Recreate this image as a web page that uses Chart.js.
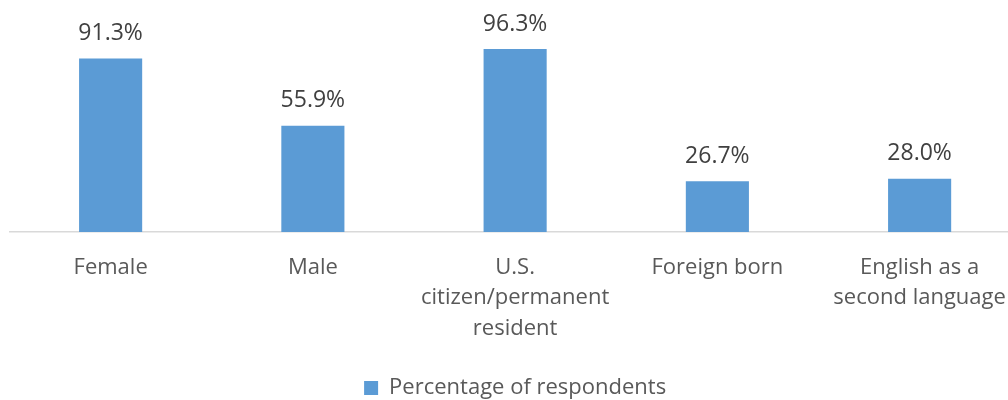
<!DOCTYPE html>
<html>
<head>
<meta charset="utf-8">
<script src="https://cdn.jsdelivr.net/npm/chart.js@4.4.1/dist/chart.umd.min.js"></script>
<style>
  html, body { margin: 0; padding: 0; background: #fff; overflow: hidden; }
  #wrap { width: 1030px; height: 400px; }
</style>
</head>
<body>
<div id="wrap"><canvas id="barchart" width="1030" height="400"></canvas></div>
<script>
const categories = [
    "Female",
    "Male",
    ["U.S.", "citizen/permanent", "resident"],
    "Foreign born",
    ["English as a", "second language"]
];
const percentages = [91.3, 55.9, 96.3, 26.7, 28.0];
const seriesName = "Percentage of respondents";

// draws the value labels above each bar
const valueLabels = {
    id: "valueLabels",
    afterDatasetsDraw(chart) {
        const ctx = chart.ctx;
        const meta = chart.getDatasetMeta(0);
        ctx.save();
        ctx.font = "23px 'Open Sans'";
        ctx.fillStyle = "#404040";
        ctx.textAlign = "center";
        ctx.textBaseline = "middle";
        meta.data.forEach((bar, i) => {
            ctx.fillText(percentages[i].toFixed(1) + "%", bar.x, bar.y - 25);
        });
        ctx.restore();
    }
};

const ctx = document.getElementById("barchart");
new Chart(ctx, {
    type: "bar",
    data: {
        labels: categories,
        datasets: [{
            label: seriesName,
            data: percentages,
            backgroundColor: "#5b9bd5",
            borderWidth: 0,
            barPercentage: 0.312,
            categoryPercentage: 1
        }]
    },
    options: {
        responsive: false,
        animation: false,
        layout: { padding: { left: 9.5, right: 9.25, top: 42, bottom: -9 } },
        scales: {
            x: {
                grid: { display: false, drawTicks: false },
                border: { display: true, color: "#d9d9d9", width: 1.5 },
                ticks: {
                    color: "#595959",
                    font: { family: "'Open Sans'", size: 22, lineHeight: 1.4 },
                    padding: 20,
                    maxRotation: 0,
                    autoSkip: false
                },
                afterFit: s => { s.height = 143; }
            },
            y: {
                display: false,
                min: 0,
                max: 100
            }
        },
        plugins: {
            legend: {
                position: "bottom",
                labels: {
                    color: "#595959",
                    font: { family: "'Open Sans'", size: 22 },
                    boxWidth: 14,
                    boxHeight: 14,
                    padding: 2
                }
            },
            tooltip: { enabled: false }
        }
    },
    plugins: [valueLabels]
});
</script>
</body>
</html>
